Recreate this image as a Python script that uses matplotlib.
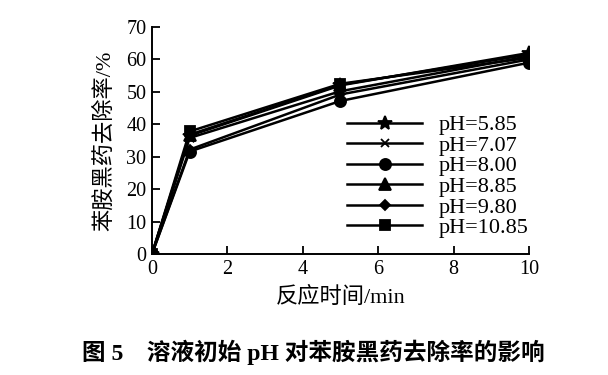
import matplotlib.pyplot as plt

# 数据
tiempo = [0, 1, 5, 10]
etiquetas = ['pH=5.85', 'pH=7.07', 'pH=8.00', 'pH=8.85', 'pH=9.80', 'pH=10.85']
marcadores = ['*', 'x', 'o', '^', 'D', 's']
tamanos = [10, 6, 8, 8, 5, 7]
ph_585 = [0, 36.5, 52.0, 62.0]
ph_707 = [0, 35.8, 50.2, 61.0]
ph_800 = [0, 31.6, 47.2, 59.0]
ph_885 = [0, 36.8, 52.2, 61.5]
ph_980 = [0, 32.2, 49.2, 60.0]
ph_1085 = [0, 37.8, 52.5, 60.5]
series = [ph_585, ph_707, ph_800, ph_885, ph_980, ph_1085]

plt.rcParams['font.family'] = ['Liberation Serif', 'Noto Sans CJK SC']

fig = plt.figure(figsize=(6.08, 3.75), dpi=100)
ax = fig.add_axes([0.25, 0.3227, 0.62, 0.6053])

for y, lab, m, s in zip(series, etiquetas, marcadores, tamanos):
    ax.plot(tiempo, y, color='black', lw=1.8, marker=m, markersize=s,
            markeredgewidth=1.3, label=lab)

ax.set_xlim(0, 10)
ax.set_ylim(0, 70)
ax.set_xticks([0, 2, 4, 6, 8, 10])
ax.set_yticks(range(0, 71, 10))
ax.spines['top'].set_visible(False)
ax.spines['right'].set_visible(False)
ax.tick_params(direction='in', length=6, width=1.3, labelsize=14.5, pad=4)
for sp in ax.spines.values():
    sp.set_linewidth(1.4)

ax.set_xlabel('反应时间/min', fontsize=16, labelpad=6)
ax.set_ylabel('苯胺黑药去除率/%', fontsize=16, labelpad=8)

ax.legend(loc='lower right', bbox_to_anchor=(1.0, 0.07), frameon=False,
          fontsize=16, handlelength=3.4, handletextpad=0.75, labelspacing=0.0,
          borderaxespad=0.0, borderpad=0.0)

fig.text(0.515, 0.06, '图 5    溶液初始 pH 对苯胺黑药去除率的影响', ha='center',
         va='center', fontsize=17, fontweight='bold')

fig.savefig('out.png', dpi=100)
